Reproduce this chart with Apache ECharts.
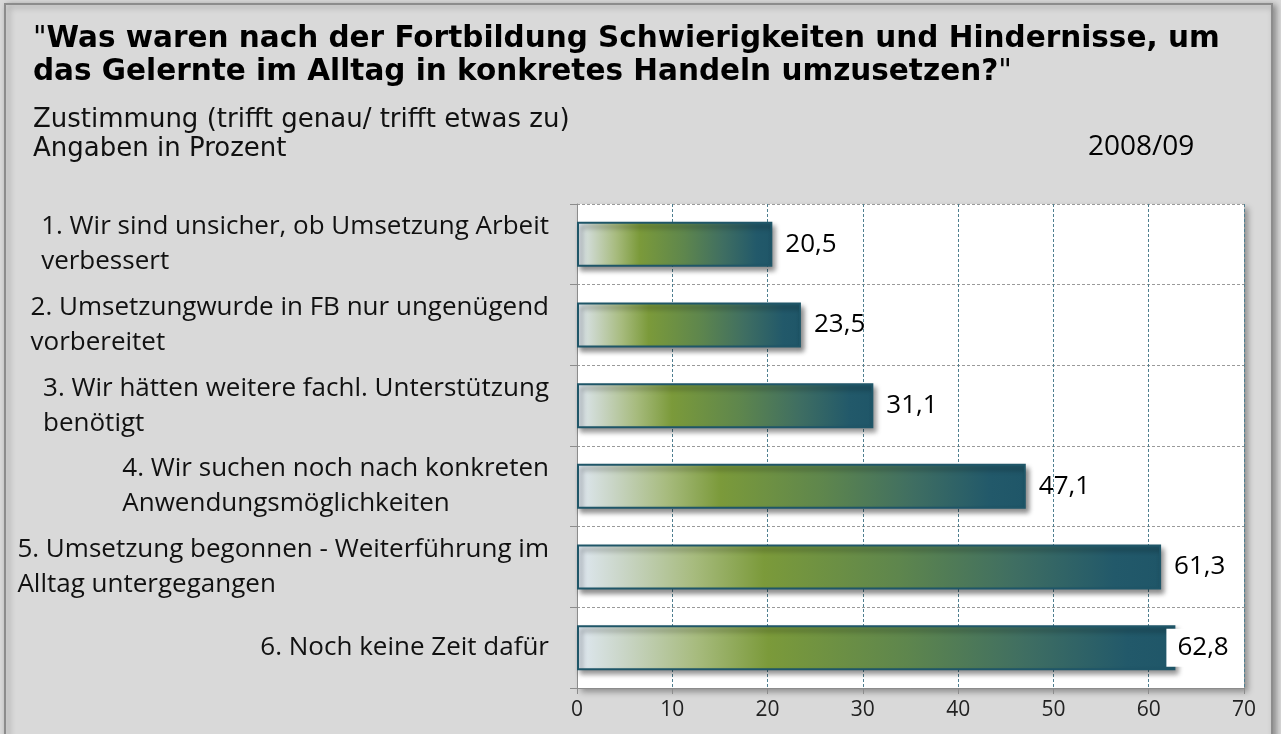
<!DOCTYPE html>
<html>
<head>
<meta charset="utf-8">
<script src="https://cdn.jsdelivr.net/npm/echarts@6/dist/echarts.min.js"></script>
<style>
  html, body { margin: 0; padding: 0; background: #d9d9d9; }
  #chart { width: 1281px; height: 734px; }
</style>
</head>
<body>
<div id="chart"></div>
<script>
// Survey items (each split into the two lines shown on the axis)
const categories = [
  ['1. Wir sind unsicher, ob Umsetzung Arbeit', 'verbessert'],
  ['2. Umsetzungwurde in FB nur ungenügend', 'vorbereitet'],
  ['3. Wir hätten weitere fachl. Unterstützung', 'benötigt'],
  ['4. Wir suchen noch nach konkreten', 'Anwendungsmöglichkeiten'],
  ['5. Umsetzung begonnen - Weiterführung im', 'Alltag untergegangen'],
  ['6. Noch keine Zeit dafür']
];
// Zustimmung in Prozent
const values = [20.5, 23.5, 31.1, 47.1, 61.3, 62.8];
const xTicks = [0, 10, 20, 30, 40, 50, 60, 70];

const labelFont = '"Open Sans", Lato, sans-serif';
const titleFont = '"DejaVu Sans", Verdana, sans-serif';

const chart = echarts.init(document.getElementById('chart'));

const barGradient = new echarts.graphic.LinearGradient(0, 0, 1, 0, [
  { offset: 0.0, color: '#dfe8f2' },
  { offset: 0.08, color: '#c9d5c6' },
  { offset: 0.2, color: '#a7bb7e' },
  { offset: 0.32, color: '#7b9a3a' },
  { offset: 0.55, color: '#5e864d' },
  { offset: 0.75, color: '#3f6e62' },
  { offset: 0.92, color: '#22596a' },
  { offset: 1.0, color: '#1f5668' }
]);

chart.setOption({
  backgroundColor: '#d9d9d9',
  animation: false,
  graphic: [
    {
      type: 'rect',
      z: -10,
      shape: { x: 5, y: 4, width: 1267, height: 740 },
      style: { fill: '#d9d9d9', stroke: '#8c8c8c', lineWidth: 2,
               shadowColor: 'rgba(0,0,0,0.35)', shadowBlur: 6, shadowOffsetX: 3, shadowOffsetY: 2 }
    },
    {
      type: 'text',
      left: 33, top: 24,
      style: {
        text: '{q|"}{b|Was waren nach der Fortbildung Schwierigkeiten und Hindernisse, um}\n{b|das Gelernte im Alltag in konkretes Handeln umzusetzen?}{q|"}',
        rich: {
          b: { fontFamily: titleFont, fontWeight: 'bold', fontSize: 29.5, lineHeight: 33, fill: '#000' },
          q: { fontFamily: titleFont, fontWeight: 'normal', fontSize: 29.5, lineHeight: 33, fill: '#000' }
        }
      }
    },
    {
      type: 'text',
      left: 33, top: 106,
      style: {
        text: 'Zustimmung (trifft genau/ trifft etwas zu)\nAngaben in Prozent',
        fontFamily: titleFont,
        fontSize: 26, lineHeight: 29, fill: '#111'
      }
    },
    {
      type: 'text',
      left: 1088, top: 133,
      style: { text: '2008/09', fontFamily: labelFont, fontSize: 28, fill: '#000' }
    }
  ],
  grid: {
    left: 577, right: 37, top: 204, bottom: 46,
    show: true,
    backgroundColor: '#ffffff',
    borderWidth: 0,
    shadowColor: 'rgba(0,0,0,0.35)',
    shadowBlur: 6,
    shadowOffsetX: 4,
    shadowOffsetY: 4
  },
  xAxis: {
    type: 'value',
    min: 0, max: 70, interval: 10,
    axisLine: { show: true, lineStyle: { color: '#8c8c8c', width: 1 } },
    axisTick: { show: true, length: 6, lineStyle: { color: '#8c8c8c' } },
    axisLabel: {
      fontFamily: labelFont, fontSize: 21, color: '#222', margin: 12,
      formatter: v => (xTicks.includes(v) ? String(v) : '')
    },
    splitLine: { show: true, lineStyle: { color: '#4f7f90', type: [3, 2], width: 1 } }
  },
  yAxis: {
    type: 'category',
    inverse: true,
    data: categories.map(c => c.join('\n')),
    axisLine: { show: true, lineStyle: { color: '#8c8c8c', width: 1 } },
    axisTick: { show: true, length: 7, inside: false, lineStyle: { color: '#8c8c8c' } },
    splitLine: { show: true, lineStyle: { color: '#9a9a9a', type: [3, 2], width: 1 } },
    axisLabel: {
      margin: 28,
      align: 'right',
      formatter: v => v.split('\n').map(s => '{l|' + s + '}').join('\n'),
      rich: {
        l: { align: 'left', fontFamily: labelFont, fontSize: 26, lineHeight: 35, color: '#111' }
      }
    }
  },
  series: [{
    type: 'bar',
    barWidth: 45,
    data: values.map((v, i) => {
      const item = { value: v };
      if (i === values.length - 1) {
        item.label = {
          backgroundColor: '#ffffff',
          padding: [6, 4, 6, 11],
          distance: -9
        };
      }
      return item;
    }),
    itemStyle: {
      color: barGradient,
      borderColor: '#1f5668',
      borderWidth: 2,
      shadowColor: 'rgba(0,0,0,0.45)',
      shadowBlur: 5,
      shadowOffsetX: 3,
      shadowOffsetY: 4
    },
    label: {
      show: true,
      position: 'right',
      distance: 13,
      fontFamily: labelFont,
      fontSize: 26,
      color: '#000',
      formatter: p => p.value.toFixed(1).replace('.', ',')
    }
  }]
});
</script>
</body>
</html>
